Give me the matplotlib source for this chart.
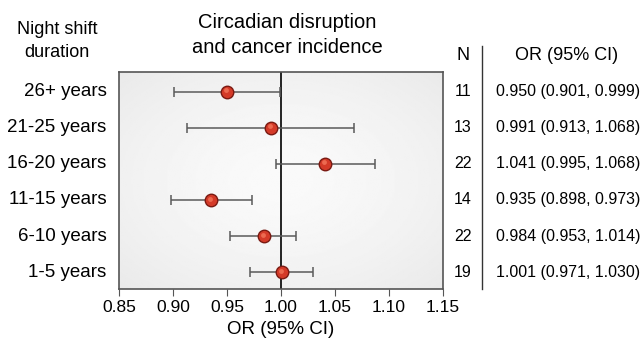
import matplotlib.pyplot as plt
import numpy as np

plt.rcParams['font.family'] = ['Liberation Sans', 'DejaVu Sans']

# data, top row first
groups = ["26+ years", "21-25 years", "16-20 years", "11-15 years", "6-10 years", "1-5 years"]
odds = [0.950, 0.991, 1.041, 0.935, 0.984, 1.001]
ci_low = [0.901, 0.913, 0.995, 0.898, 0.953, 0.971]
ci_high = [0.999, 1.068, 1.087, 0.973, 1.014, 1.030]
n_studies = [11, 13, 22, 14, 22, 19]
or_labels = ["0.950 (0.901, 0.999)", "0.991 (0.913, 1.068)", "1.041 (0.995, 1.068)",
             "0.935 (0.898, 0.973)", "0.984 (0.953, 1.014)", "1.001 (0.971, 1.030)"]
xticks = [0.85, 0.90, 0.95, 1.00, 1.05, 1.10, 1.15]

W, H = 642, 339
fig = plt.figure(figsize=(W / 100, H / 100), dpi=100)
ax = fig.add_axes([119 / W, 1 - 289 / H, (443 - 119) / W, (289 - 72) / H])

ypos = np.arange(len(groups))[::-1]
ax.set_xlim(0.85, 1.15)
ax.set_ylim(-0.47, 5.55)

# soft radial grey background
gx, gy = np.meshgrid(np.linspace(-1, 1, 200), np.linspace(-1, 1, 200))
r = np.sqrt(gx ** 2 + gy ** 2) / np.sqrt(2)
ax.imshow(0.98 - 0.065 * r ** 1.5, cmap='gray', vmin=0, vmax=1, aspect='auto',
          extent=[0.85, 1.15, -0.47, 5.55], zorder=0)

ax.axvline(1.0, color='black', lw=1.2, zorder=1)

lo = np.array(odds) - np.array(ci_low)
hi = np.array(ci_high) - np.array(odds)
ax.errorbar(odds, ypos, xerr=[lo, hi], fmt='none', ecolor='#5a5a5a',
            elinewidth=1.1, capsize=3.5, capthick=1.1, zorder=2)
ax.plot(odds, ypos, 'o', ms=9, mfc='#d43a28', mec='#7a1a12', mew=1.0, zorder=3)
ax.plot(np.array(odds) - 0.001, ypos + 0.04, 'o', ms=3.5, mfc='#ec6a50', mec='none', zorder=4)

ax.set_yticks([])
ax.set_xticks(xticks)
ax.set_xticklabels([f"{t:.2f}" for t in xticks], fontsize=12.5)
ax.tick_params(axis='x', length=5, color='#555555', pad=3)
for s in ax.spines.values():
    s.set_color('#555555')
    s.set_linewidth(1.2)
ax.set_xlabel("OR (95% CI)", fontsize=13.5, labelpad=4)

# row labels and right-hand table
def fy(py):
    return 1 - py / H

for g, y in zip(groups, ypos):
    ax.annotate(g, xy=(0, y), xycoords=('axes fraction', 'data'), xytext=(-9, 0),
                textcoords='offset points', ha='right', va='center', fontsize=13.5)
for n, lab, y in zip(n_studies, or_labels, ypos):
    ax.annotate(str(n), xy=(463 / W, y), xycoords=('figure fraction', 'data'),
                ha='center', va='center', fontsize=11.5, annotation_clip=False)
    ax.annotate(lab, xy=(496 / W, y), xycoords=('figure fraction', 'data'),
                ha='left', va='center', fontsize=11.5, annotation_clip=False)

fig.add_artist(plt.Line2D([482 / W, 482 / W], [fy(46), fy(289)], color='#333333', lw=1))
fig.text(57 / W, fy(41), "Night shift\nduration", ha='center', va='center', fontsize=13,
         linespacing=1.4)
fig.text(287 / W, fy(35), "Circadian disruption\nand cancer incidence", ha='center',
         va='center', fontsize=14.5, linespacing=1.4)
fig.text(463 / W, fy(56), "N", ha='center', va='center', fontsize=13)
fig.text(567 / W, fy(56), "OR (95% CI)", ha='center', va='center', fontsize=13)

fig.savefig("out.png", dpi=100, facecolor='white')
